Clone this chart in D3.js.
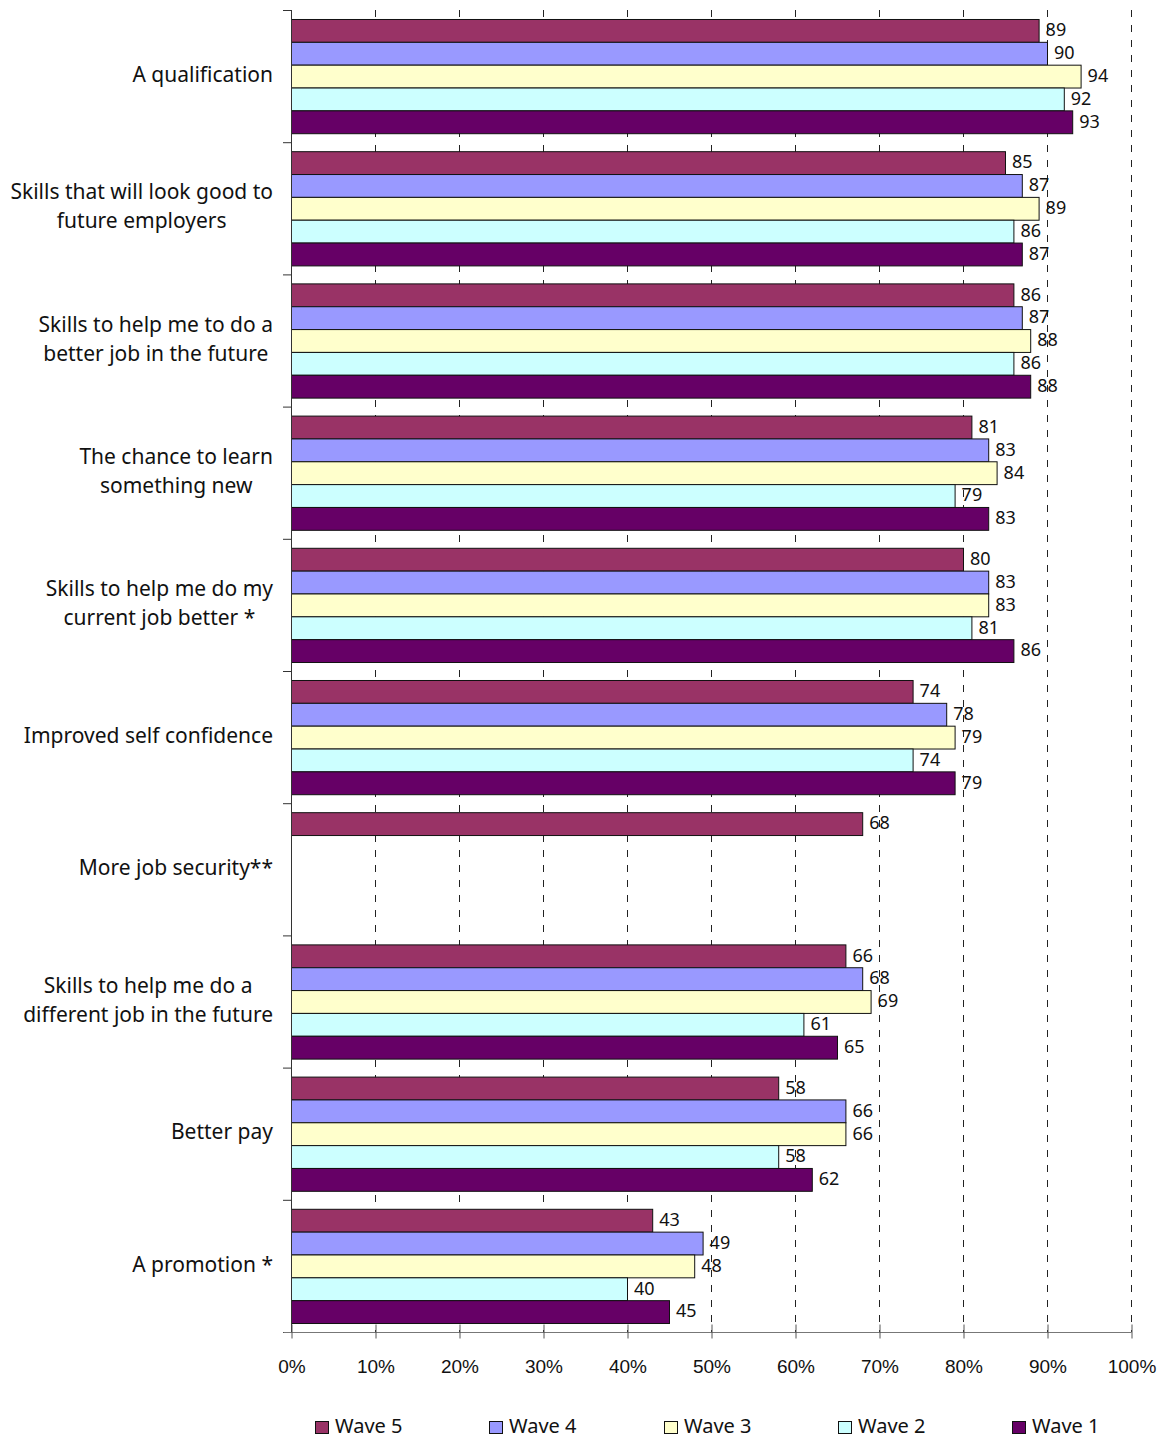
<!DOCTYPE html>
<html>
<head>
<meta charset="utf-8">
<script src="https://cdn.jsdelivr.net/npm/d3@7"></script>
<style>
  html, body { margin: 0; padding: 0; background: #fff; }
  svg { display: block; font-family: "Noto Sans", "DejaVu Sans", sans-serif; }
</style>
</head>
<body>
<svg id="chart" width="1163" height="1438"></svg>
<script>
// Reasons for learning, percentage agreeing by survey wave
const categories = [
  ["A qualification"],
  ["Skills that will look good to", "future employers"],
  ["Skills to help me to do a", "better job in the future"],
  ["The chance to learn", "something new"],
  ["Skills to help me do my", "current job better *"],
  ["Improved self confidence"],
  ["More job security**"],
  ["Skills to help me do a", "different job in the future"],
  ["Better pay"],
  ["A promotion *"]
];
const seriesNames = ["Wave 5", "Wave 4", "Wave 3", "Wave 2", "Wave 1"];
const seriesColors = ["#993366", "#9999FF", "#FFFFCC", "#CCFFFF", "#660066"];
const wave5 = [89, 85, 86, 81, 80, 74, 68, 66, 58, 43];
const wave4 = [90, 87, 87, 83, 83, 78, null, 68, 66, 49];
const wave3 = [94, 89, 88, 84, 83, 79, null, 69, 66, 48];
const wave2 = [92, 86, 86, 79, 81, 74, null, 61, 58, 40];
const wave1 = [93, 87, 88, 83, 86, 79, null, 65, 62, 45];
const seriesValues = [wave5, wave4, wave3, wave2, wave1];
const xTicks = [0, 10, 20, 30, 40, 50, 60, 70, 80, 90, 100];

const svg = d3.select("#chart");
const plot = { left: 291, right: 1131, top: 10, bottom: 1332 };

const x = d3.scaleLinear().domain([0, 100]).range([plot.left, plot.right]);
const y = d3.scaleBand().domain(d3.range(categories.length))
  .range([plot.top, plot.bottom]).paddingInner(0.136).paddingOuter(0.068);
const inner = d3.scaleBand().domain(d3.range(seriesNames.length))
  .range([0, y.bandwidth()]);

// dashed vertical gridlines
svg.append("g").selectAll("line").data(xTicks.slice(1)).join("line")
  .attr("x1", d => x(d) + 0.5).attr("x2", d => x(d) + 0.5)
  .attr("y1", plot.top).attr("y2", plot.bottom)
  .attr("stroke", "#222").attr("stroke-width", 1)
  .attr("stroke-dasharray", "7,8");

// bars
const rows = [];
categories.forEach((c, i) => {
  seriesValues.forEach((vals, s) => {
    if (vals[i] != null) rows.push({ cat: i, s, v: vals[i] });
  });
});
svg.append("g").selectAll("rect").data(rows).join("rect")
  .attr("x", x(0) + 0.5)
  .attr("y", d => y(d.cat) + inner(d.s) + 0.5)
  .attr("width", d => x(d.v) - x(0))
  .attr("height", inner.bandwidth())
  .attr("fill", d => seriesColors[d.s])
  .attr("stroke", "#111").attr("stroke-width", 1);

// value labels
svg.append("g").selectAll("text").data(rows).join("text")
  .attr("x", d => x(d.v) + 7)
  .attr("y", d => y(d.cat) + inner(d.s) + inner.bandwidth() / 2 + 1)
  .attr("dominant-baseline", "middle")
  .attr("font-size", 18).attr("fill", "#111")
  .text(d => d.v);

// category axis
const yAxisG = svg.append("g");
yAxisG.append("line").attr("x1", plot.left + 0.5).attr("x2", plot.left + 0.5)
  .attr("y1", plot.top).attr("y2", plot.bottom).attr("stroke", "#333");
const step = (plot.bottom - plot.top) / categories.length;
yAxisG.selectAll("line.tick").data(d3.range(categories.length + 1)).join("line")
  .attr("class", "tick")
  .attr("x1", plot.left - 8).attr("x2", plot.left)
  .attr("y1", d => plot.top + d * step + 0.5).attr("y2", d => plot.top + d * step + 0.5)
  .attr("stroke", "#333");

// category labels: centred lines in a block right-aligned to the axis
categories.forEach((lines, i) => {
  const cy = plot.top + (i + 0.5) * step;
  const lh = 29;
  const g = svg.append("g");
  const texts = lines.map((t, k) => g.append("text")
    .attr("font-size", 21).attr("fill", "#111")
    .attr("y", cy + (k - (lines.length - 1) / 2) * lh)
    .attr("dominant-baseline", "middle")
    .text(t));
  const maxW = d3.max(texts, t => t.node().getComputedTextLength());
  const cx = 273 - maxW / 2;
  texts.forEach(t => t.attr("x", cx).attr("text-anchor", "middle"));
});

// value axis
const xAxis = d3.axisBottom(x).tickValues(xTicks).tickSize(6).tickPadding(21)
  .tickFormat(d => d + "%");
const xg = svg.append("g").attr("transform", `translate(0.5,${plot.bottom + 0.5})`).call(xAxis);
xg.select(".domain").attr("stroke", "#777").attr("d", `M${plot.left - 8},0H${plot.right}`);
xg.selectAll(".tick line").attr("stroke", "#555").attr("y1", -8).attr("y2", 6);
xg.selectAll(".tick text").attr("font-size", 19).attr("fill", "#111")
  .attr("font-family", "inherit");

// legend
const legendX = [315, 489, 664, 838, 1012];
const lg = svg.append("g");
seriesNames.forEach((n, i) => {
  lg.append("rect").attr("x", legendX[i] + 0.5).attr("y", 1421.5)
    .attr("width", 13).attr("height", 12)
    .attr("fill", seriesColors[i]).attr("stroke", "#111");
  lg.append("text").attr("x", legendX[i] + 20).attr("y", 1428)
    .attr("dominant-baseline", "middle")
    .attr("font-size", 20).attr("fill", "#111").text(n);
});
</script>
</body>
</html>
